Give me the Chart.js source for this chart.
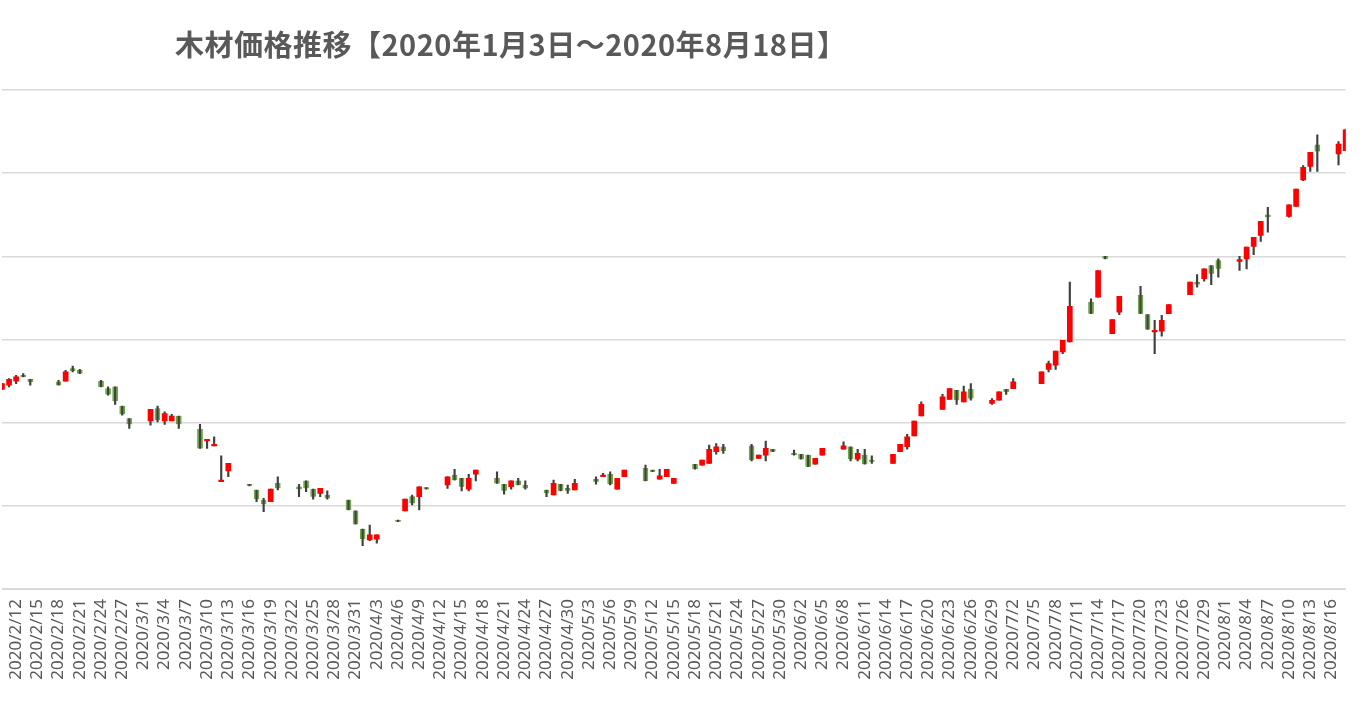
<!DOCTYPE html>
<html><head><meta charset="utf-8">
<script src="https://cdn.jsdelivr.net/npm/chart.js@4/dist/chart.umd.min.js"></script>
<style>
html,body{margin:0;padding:0;background:#fff;overflow:hidden}
#t{position:absolute;left:175px;top:22px;font:bold 29px "Noto Sans CJK JP","Noto Sans",sans-serif;color:#595959;white-space:nowrap;letter-spacing:0.5px}
#w{position:absolute;left:0;top:0;width:1368px;height:714px}
</style></head><body>
<div id="w"><canvas id="c"></canvas></div>
<div id="t">木材価格推移【2020年1月3日～2020年8月18日】</div>
<script>
const days  = ["2/10","2/11","2/12","2/13","2/14","2/18","2/19","2/20","2/21","2/24","2/25","2/26","2/27","2/28",
"3/2","3/3","3/4","3/5","3/6","3/9","3/10","3/11","3/12","3/13","3/16","3/17","3/18","3/19","3/20","3/23","3/24","3/25","3/26","3/27","3/30","3/31",
"4/1","4/2","4/3","4/6","4/7","4/8","4/9","4/10","4/13","4/14","4/15","4/16","4/17","4/20","4/21","4/22","4/23","4/24","4/27","4/28","4/29","4/30",
"5/1","5/4","5/5","5/6","5/7","5/8","5/11","5/12","5/13","5/14","5/15","5/18","5/19","5/20","5/21","5/22","5/26","5/27","5/28","5/29",
"6/1","6/2","6/3","6/4","6/5","6/8","6/9","6/10","6/11","6/12","6/15","6/16","6/17","6/18","6/19","6/22","6/23","6/24","6/25","6/26","6/29","6/30",
"7/1","7/2","7/6","7/7","7/8","7/9","7/10","7/13","7/14","7/15","7/16","7/17","7/20","7/21","7/22","7/23","7/24","7/27","7/28","7/29","7/30","7/31",
"8/3","8/4","8/5","8/6","8/7","8/10","8/11","8/12","8/13","8/14","8/17","8/18"];
const openV = [440,445,450,457,452,449,450,465,463,450,441,443,420,405,
402,417,402,402,408,392,378,372,329,342,326,319,307,305,327,323,330,320,315,313,307,294,
272,259,260,283,294,311,311,322,325,337,333,320,338,333,326,323,330,325,319,313,326,321,
319,332,335,338,320,335,345,343,332,335,327,350,349,351,365,371,372,357,361,368,
363,362,361,350,361,368,371,356,361,355,351,365,371,384,408,416,428,439,425,440,423,427,
440,441,447,464,469,485,497,545,551,600,507,533,553,530,509,510,531,554,569,573,589,595,
594,597,612,625,650,648,660,692,708,734,723,727];
const highV = [447,453,457,459,452,451,463,468,464,451,443,443,420,405,
416,420,413,410,408,398,380,383,360,351,326,319,309,320,335,326,330,320,321,318,307,294,
272,277,265,283,308,313,323,322,335,344,333,338,343,341,326,330,333,330,319,331,326,325,
332,335,339,341,333,343,349,343,344,344,333,350,355,373,375,374,374,361,378,368,
367,362,361,357,369,377,371,368,368,360,362,374,386,402,425,434,441,439,444,447,429,437,
440,453,461,474,486,499,569,549,583,600,524,552,564,530,523,529,542,569,578,585,589,597,
600,611,623,642,659,662,681,709,725,746,738,753];
const lowV  = [440,443,447,455,445,445,450,461,459,443,433,422,409,393,
397,401,398,402,393,369,369,372,329,335,324,305,293,305,319,311,317,308,311,308,295,278,
252,258,255,281,294,301,295,320,321,331,318,318,330,327,314,320,325,320,311,313,318,315,
319,326,335,325,320,335,330,341,332,335,327,344,349,351,362,363,354,357,354,365,
361,356,347,350,361,368,354,354,350,351,351,365,368,384,408,416,428,422,425,427,422,427,
434,441,447,461,464,483,497,531,551,597,507,530,531,512,483,504,531,554,563,570,566,575,
583,585,602,618,629,647,660,691,702,702,710,727];
const closeV= [447,452,455,455,449,445,461,462,459,443,434,426,410,398,
416,403,411,408,398,369,380,374,331,351,324,308,302,320,321,320,321,311,321,309,295,278,
260,265,265,281,308,303,323,320,335,331,323,333,343,327,318,330,325,321,315,327,318,318,
327,329,337,326,333,343,330,341,336,344,333,344,355,368,371,366,355,361,369,365,
361,356,347,357,369,372,356,363,350,353,362,374,383,402,422,431,441,427,437,429,427,437,
437,449,461,471,486,499,540,531,583,597,524,552,531,512,511,523,542,569,566,585,579,585,
596,611,623,642,647,662,681,707,725,726,735,752];
const yTicks = [200,300,400,500,600,700,800];

const cats = [];
for (let d = new Date(2020,1,10); d <= new Date(2020,7,18); d.setDate(d.getDate()+1)) {
  cats.push((d.getMonth()+1)+"/"+d.getDate());
}
const n = cats.length;
const G = new Array(n).fill(null), R = new Array(n).fill(null), W = new Array(n).fill(null);
days.forEach((k,j)=>{
  const i = cats.indexOf(k);
  const o=openV[j], c=closeV[j];
  const b=[Math.min(o,c), Math.max(o,c)];
  if (b[1]-b[0] < 1.5) b[1] = b[0]+1.5;
  if (c>=o) R[i]=b; else G[i]=b;
  W[i]=[lowV[j], highV[j]];
});
new Chart(document.getElementById('c'), {
  type:'bar',
  data:{labels:cats, datasets:[
    {data:R, backgroundColor:'#FF0000', barThickness:5, order:0, grouped:false},
    {data:W, backgroundColor:'#404040', barThickness:1.5, order:1, grouped:false},
    {data:G, backgroundColor:'#70AD47', borderColor:'#5E9A3A', borderWidth:0.5, barThickness:5, order:2, grouped:false}
  ]},
  options:{
    responsive:true, maintainAspectRatio:false, animation:false,
    layout:{padding:{top:90,right:21,left:0,bottom:0}},
    plugins:{legend:{display:false}, tooltip:{enabled:false}},
    scales:{
      x:{offset:false, grid:{display:false}, border:{color:'#d9d9d9'},
         afterFit:(ax)=>{ax.height=125;},
         ticks:{autoSkip:false, maxRotation:90, minRotation:90, color:'#595959', padding:2,
           font:{size:17, family:'"Noto Sans","DejaVu Sans",sans-serif'},
           callback:(v,i)=> (i%3===2) ? '2020/'+cats[i] : ''}},
      y:{min:200, max:800, afterBuildTicks:(ax)=>{ax.ticks=yTicks.map(v=>({value:v}));},
         ticks:{display:false}, border:{display:false},
         grid:{color:'#d9d9d9', lineWidth:1.5, drawTicks:false}}
    }
  }
});
</script></body></html>
